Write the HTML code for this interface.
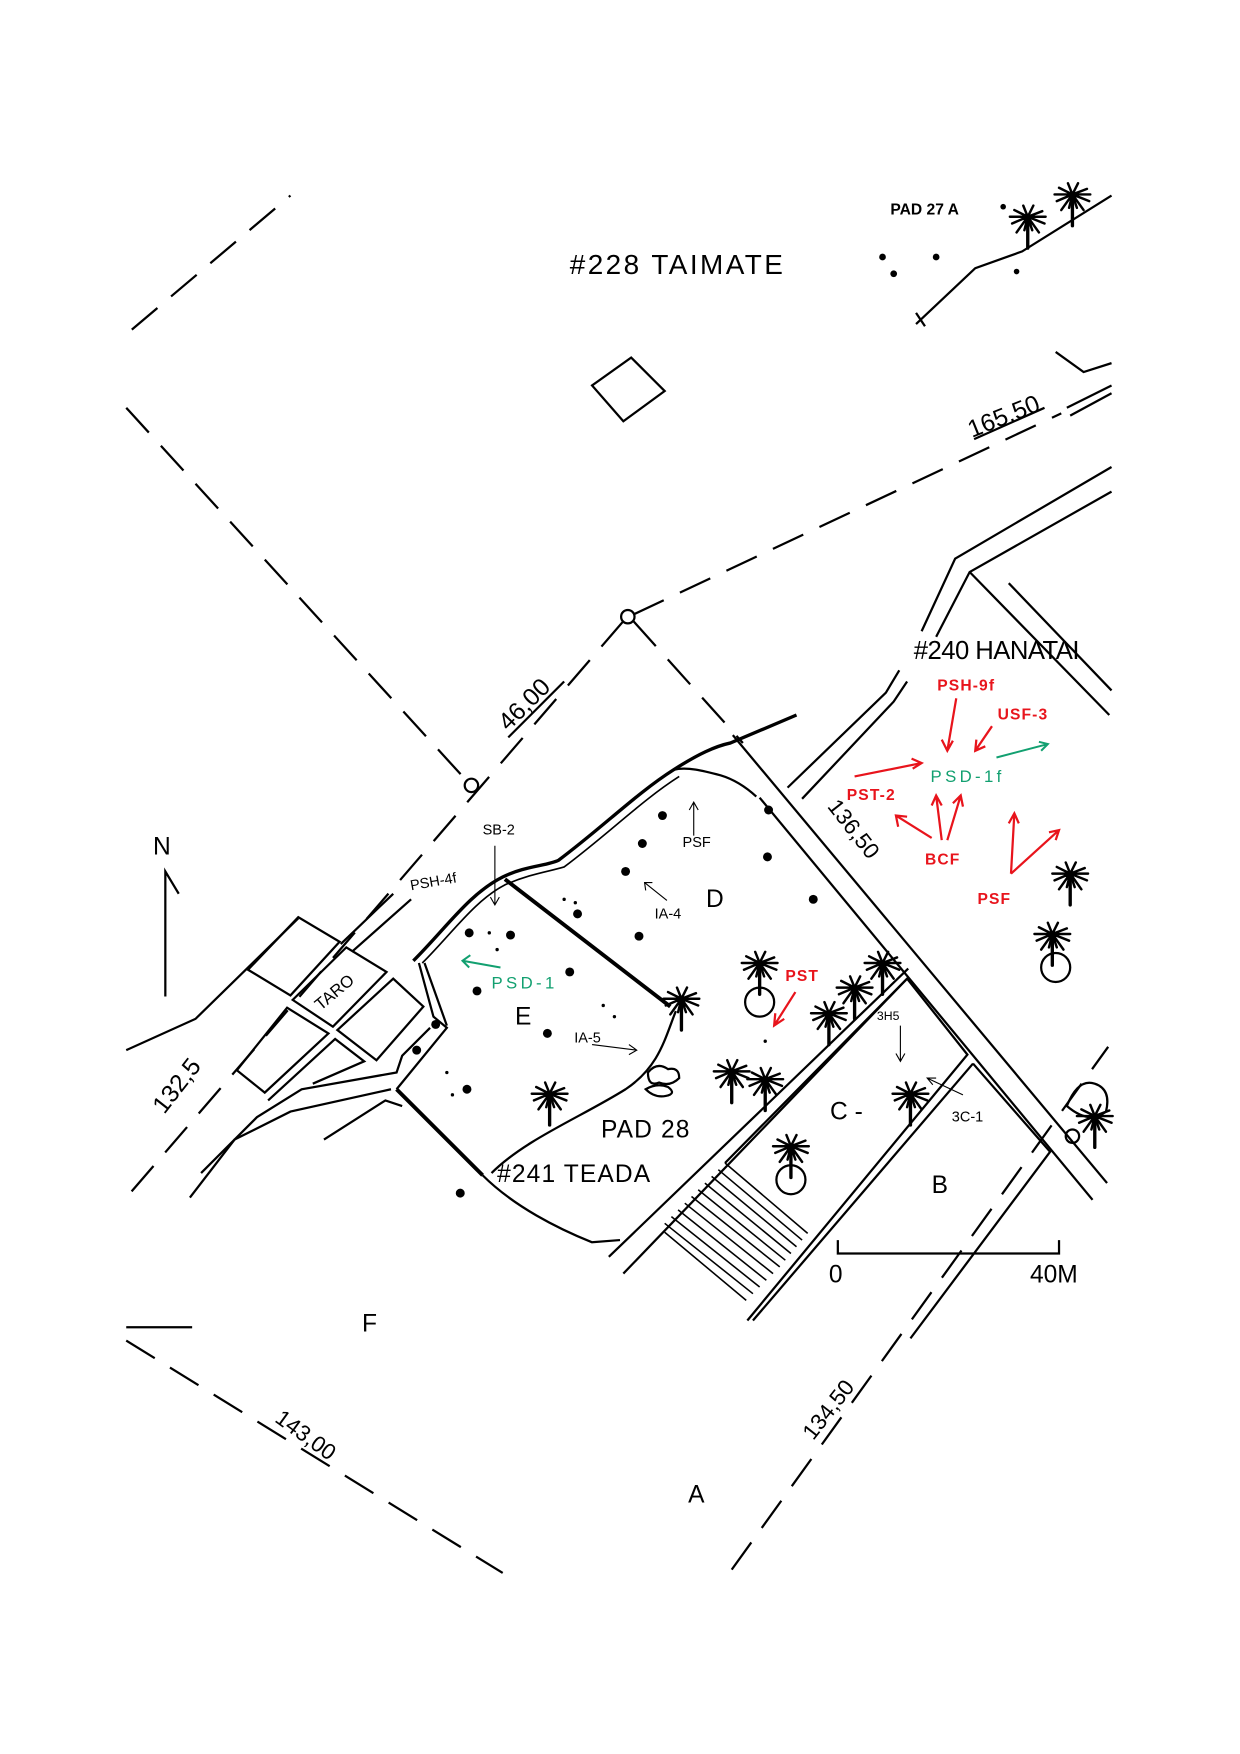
<!DOCTYPE html>
<html><head><meta charset="utf-8"><style>
html,body{margin:0;padding:0;background:#fff;}
svg{display:block;}
text{font-family:"Liberation Sans",sans-serif;}
.m{font-family:"Liberation Mono",monospace;}
</style></head><body>
<svg width="1240" height="1754" viewBox="0 0 1110 1570" xmlns="http://www.w3.org/2000/svg">
<defs>
<symbol id="palm" viewBox="-20 -22 40 44" overflow="visible">
<g stroke="#000" stroke-width="2.2" fill="none" stroke-linecap="round">
<line x1="0" y1="-6" x2="0" y2="20" stroke-width="3"/>
<path d="M0,-8 L-14,-2 M0,-8 L-12,-14 M0,-8 L-4,-18 M0,-8 L5,-18 M0,-8 L13,-13 M0,-8 L15,-2 M0,-8 L-10,6 M0,-8 L10,6 M0,-8 L-16,-8 M0,-8 L16,-8 M0,-8 L-3,4 M0,-8 L4,4"/>
</g>
</symbol>
</defs>
<g fill="none" stroke="#000" stroke-width="2">
<g stroke-dasharray="30,16">
<line x1="118" y1="295" x2="260" y2="175"/>
<line x1="113" y1="365" x2="416" y2="697"/>
<line x1="558" y1="556" x2="113" y2="1072"/>
<line x1="567" y1="550" x2="950" y2="370"/>
<line x1="567" y1="556" x2="665" y2="665"/>
<line x1="113" y1="1200" x2="450" y2="1408"/>
<line x1="655" y1="1405" x2="992" y2="937"/>
</g>
<circle cx="562" cy="552" r="6"/>
<circle cx="422" cy="703" r="6"/>
<circle cx="960" cy="1017" r="6"/>
<line x1="872" y1="393" x2="935" y2="365"/>
<line x1="455" y1="660" x2="505" y2="610"/>
<polyline points="820,290 873,240 915,225 995,175"/>
<line x1="820" y1="280" x2="828" y2="292"/>
<polyline points="945,315 970,333 995,325"/>
<polyline points="955,365 995,345"/><polyline points="958,372 995,352"/>
<polygon points="530,345 565,320 595,350 558,377"/>
<polyline points="995,418 855,500 825,565"/>
<polyline points="995,440 868,512 838,570"/>
<polyline points="805,600 793,620 705,705"/>
<polyline points="812,610 800,628 718,715"/>
<line x1="868" y1="512" x2="993" y2="640"/>
<line x1="903" y1="522" x2="995" y2="618"/>
<line x1="656" y1="658" x2="991" y2="1059"/>
<line x1="680" y1="714" x2="978" y2="1074"/>
<path d="M370,860 C400,830 420,800 450,785 C470,775 490,775 500,770 C540,740 570,710 603,689 C625,675 640,668 654,665 L713,640" stroke-width="3"/>
<path d="M378,862 C405,835 425,806 452,792 C475,782 492,780 505,776 C545,746 575,716 608,695" stroke-width="1.5"/>
<path d="M603,689 C615,686 630,690 645,694 C655,697 665,702 677,713"/>
<line x1="452" y1="787" x2="600" y2="901" stroke-width="3.5"/>
<line x1="355" y1="975" x2="432" y2="1052" stroke-width="3.5"/>
<polyline points="375,862 388,910 400,920 355,975"/>
<polyline points="380,862 400,918"/>
<path d="M440,1050 C470,1020 520,1000 560,975 C590,955 595,930 605,905"/>
<path d="M432,1052 C460,1080 500,1100 530,1112 L555,1110"/>
<line x1="545" y1="1125" x2="813" y2="867"/>
<line x1="558" y1="1140" x2="812" y2="876"/>
<polyline points="649,1041 812,876 866,944 669,1182"/>
<polyline points="871,952 674,1182"/>
<polyline points="871,952 940,1031 815,1198"/>
<g stroke-width="1.4">
<line x1="649" y1="1041" x2="723" y2="1104"/><line x1="643" y1="1047" x2="718" y2="1110"/><line x1="637" y1="1053" x2="713" y2="1116"/><line x1="631" y1="1059" x2="708" y2="1122"/><line x1="625" y1="1065" x2="703" y2="1128"/><line x1="619" y1="1071" x2="698" y2="1134"/><line x1="613" y1="1077" x2="692" y2="1140"/><line x1="607" y1="1083" x2="686" y2="1146"/><line x1="601" y1="1089" x2="680" y2="1152"/><line x1="595" y1="1095" x2="674" y2="1158"/><line x1="595" y1="1103" x2="668" y2="1164"/>
</g>
<polyline points="113,940 175,912 267,822"/>
<polyline points="305,845 352,800"/>
<polyline points="315,852 368,805"/>
<polygon points="222,868 267,821 304,843 260,891"/>
<polygon points="262,895 310,848 346,870 298,919"/>
<polygon points="302,922 352,876 379,901 337,949"/>
<polygon points="212,958 257,902 294,925 237,978"/>
<polyline points="240,985 300,930 326,950 280,970"/>
<polyline points="180,1050 230,1000 270,975 355,960 360,945 385,920"/>
<polyline points="170,1072 210,1020 260,995 350,975"/>
<polyline points="290,1020 345,985 360,990"/>
<line x1="113" y1="1188" x2="172" y2="1188"/>
<polyline points="148,892 148,780 160,800"/>
<polyline points="750,1110 750,1122 948,1122 948,1110"/>
<circle cx="680" cy="897" r="13"/><circle cx="708" cy="1056" r="13"/><circle cx="945" cy="866" r="13"/>
<path d="M580,960 q8,-10 18,-3 q10,-2 10,8 q-8,8 -18,4 q-10,4 -10,-9z M578,975 q10,-6 20,-2 q8,6 -2,8 q-10,2 -18,-6z"/>
<path d="M955,990 q10,-25 25,-20 q15,5 10,25 q-15,12 -35,-5z"/>
</g>
<g fill="#000">
<circle cx="420" cy="835" r="4"/><circle cx="457" cy="837" r="4"/><circle cx="427" cy="887" r="4"/><circle cx="510" cy="870" r="4"/><circle cx="490" cy="925" r="4"/><circle cx="418" cy="975" r="4"/><circle cx="373" cy="940" r="4"/><circle cx="390" cy="917" r="4"/><circle cx="517" cy="818" r="4"/><circle cx="593" cy="730" r="4"/><circle cx="575" cy="755" r="4"/><circle cx="560" cy="780" r="4"/><circle cx="572" cy="838" r="4"/><circle cx="688" cy="725" r="4"/><circle cx="687" cy="767" r="4"/><circle cx="728" cy="805" r="4"/><circle cx="412" cy="1068" r="4"/>
<circle cx="790" cy="230" r="3"/><circle cx="800" cy="245" r="3"/><circle cx="838" cy="230" r="3"/><circle cx="910" cy="243" r="2.5"/><circle cx="898" cy="185" r="2.5"/>
<circle cx="438" cy="835" r="1.5"/><circle cx="445" cy="850" r="1.5"/><circle cx="505" cy="805" r="1.5"/><circle cx="515" cy="808" r="1.5"/><circle cx="400" cy="960" r="1.5"/><circle cx="405" cy="980" r="1.5"/><circle cx="540" cy="900" r="1.5"/><circle cx="550" cy="910" r="1.5"/><circle cx="685" cy="932" r="1.5"/>
</g>
<g>
<use href="#palm" x="660" y="848" width="40" height="44"/>
<use href="#palm" x="590" y="880" width="40" height="44"/>
<use href="#palm" x="635" y="945" width="40" height="44"/>
<use href="#palm" x="665" y="952" width="40" height="44"/>
<use href="#palm" x="722" y="893" width="40" height="44"/>
<use href="#palm" x="745" y="870" width="40" height="44"/>
<use href="#palm" x="770" y="848" width="40" height="44"/>
<use href="#palm" x="472" y="965" width="40" height="44"/>
<use href="#palm" x="688" y="1012" width="40" height="44"/>
<use href="#palm" x="795" y="965" width="40" height="44"/>
<use href="#palm" x="938" y="768" width="40" height="44"/>
<use href="#palm" x="922" y="822" width="40" height="44"/>
<use href="#palm" x="900" y="180" width="40" height="44"/>
<use href="#palm" x="940" y="160" width="40" height="44"/>
<use href="#palm" x="960" y="985" width="40" height="44"/>
</g>
<g fill="#000" class="m">
<text x="510" y="245" font-size="25" letter-spacing="2.2">#228 TAIMATE</text>
<text x="797" y="192" font-size="14" font-weight="bold">PAD 27 A</text>
<text x="818" y="590" font-size="23" letter-spacing="-0.5">#240 HANATAI</text>
<text x="538" y="1018" font-size="22" letter-spacing="1">PAD 28</text>
<text x="445" y="1058" font-size="22" letter-spacing="1">#241 TEADA</text>
<text transform="translate(870,392) rotate(-22)" font-size="22">165.50</text>
<text transform="translate(455,655) rotate(-45)" font-size="22">46,00</text>
<text transform="translate(147,998) rotate(-52)" font-size="22">132,5</text>
<text transform="translate(245,1272) rotate(36)" font-size="20">143,00</text>
<text transform="translate(728,1290) rotate(-52)" font-size="20">134,50</text>
<text transform="translate(740,722) rotate(52)" font-size="20">136,50</text>
<text transform="translate(287,905) rotate(-40)" font-size="15">TARO</text>
<text x="137" y="765" font-size="22">N</text>
<text x="742" y="1148" font-size="22">0</text>
<text x="922" y="1148" font-size="22">40M</text>
</g>
<g fill="#000" font-family="Liberation Serif,serif" font-size="22">
<text x="324" y="1192">F</text><text x="616" y="1345">A</text><text x="834" y="1068">B</text><text x="743" y="1002">C -</text><text x="632" y="812">D</text><text x="461" y="917">E</text>
</g>
<g fill="#000" font-size="13">
<text x="432" y="747">SB-2</text>
<text x="368" y="797" transform="rotate(-10 368 797)">PSH-4f</text>
<text x="611" y="758">PSF</text>
<text x="586" y="822">IA-4</text>
<text x="514" y="933">IA-5</text>
<text x="785" y="913" font-size="11">3H5</text>
<text x="852" y="1004">3C-1</text>
</g>
<g stroke="#000" stroke-width="1" fill="none">
<path d="M443,757 L443,810 M439,803 L443,810 L447,803"/>
<path d="M621,748 L621,718 M617,725 L621,718 L625,725"/>
<path d="M597,806 L577,790 M578,797 L577,790 L584,790"/>
<path d="M530,935 L570,940 M563,935 L570,940 L563,944"/>
<path d="M806,918 L806,950 M802,943 L806,950 L810,943"/>
<path d="M862,980 L830,965 M835,971 L830,965 L838,965"/>
</g>
<g fill="#12a070" font-size="15" letter-spacing="3">
<text x="440" y="885">PSD-1</text>
<text x="833" y="700">PSD-1f</text>
</g>
<g stroke="#12a070" stroke-width="1.8" fill="none">
<path d="M448,866 L414,860 M421,855 L414,860 L420,866"/>
<path d="M892,678 L938,666 M930,664 L938,666 L932,672"/>
</g>
<g fill="#e8141c" font-size="14" font-weight="bold" letter-spacing="1">
<text x="839" y="618">PSH-9f</text>
<text x="893" y="644">USF-3</text>
<text x="758" y="716">PST-2</text>
<text x="828" y="774">BCF</text>
<text x="875" y="809">PSF</text>
<text x="703" y="878">PST</text>
</g>
<g stroke="#e8141c" stroke-width="2" fill="none">
<path d="M856,625 L848,672 M843,662 L848,672 L853,663"/>
<path d="M888,650 L873,672 M874,662 L873,672 L882,668"/>
<path d="M765,695 L825,683 M816,679 L825,683 L817,688"/>
<path d="M834,750 L802,730 M804,740 L802,730 L812,731"/>
<path d="M843,752 L838,712 M834,721 L838,712 L843,721"/>
<path d="M848,752 L860,712 M853,719 L860,712 L862,722"/>
<path d="M905,782 L908,728 M903,737 L908,728 L912,737"/>
<path d="M905,782 L948,743 M939,745 L948,743 L945,752"/>
<path d="M712,888 L693,918 M694,907 L693,918 L702,912"/>
</g>
</svg>
</body></html>
